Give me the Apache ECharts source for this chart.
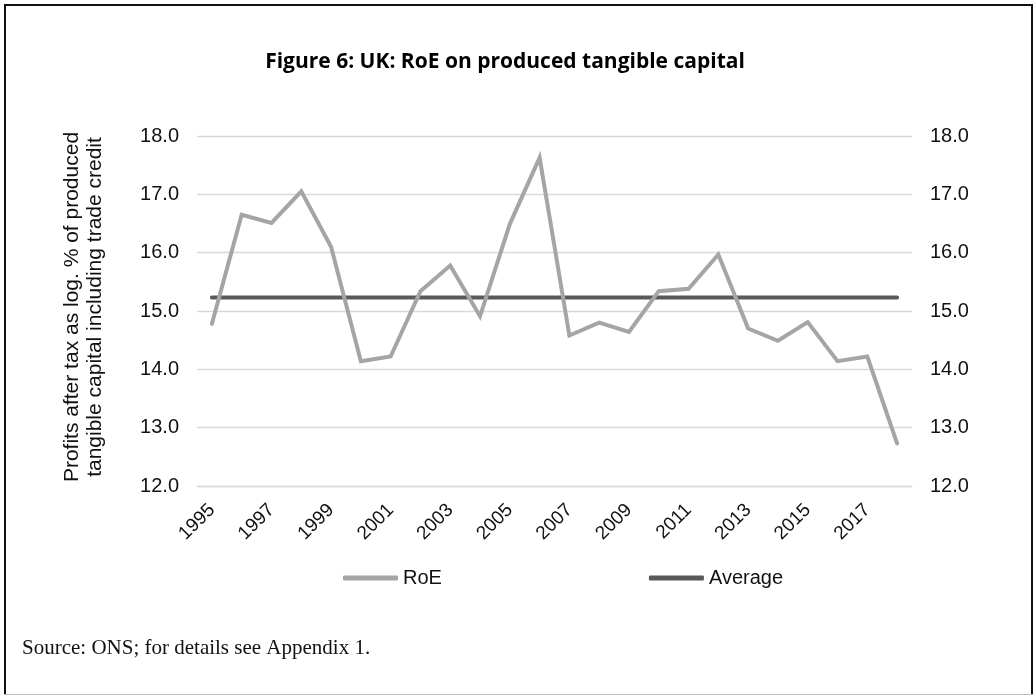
<!DOCTYPE html>
<html>
<head>
<meta charset="utf-8">
<script src="https://cdn.jsdelivr.net/npm/echarts@6/dist/echarts.min.js"></script>
<style>
  html, body { margin: 0; padding: 0; background: #fff; }
  #chart { width: 1034px; height: 696px; }
</style>
</head>
<body>
<div id="chart"></div>
<script>
// Years on the category axis
const years = ['1995','1996','1997','1998','1999','2000','2001','2002','2003','2004','2005','2006',
               '2007','2008','2009','2010','2011','2012','2013','2014','2015','2016','2017','2018'];

// Return on equity, % (profits after tax over produced tangible capital incl. trade credit)
const roe = [14.78, 16.65, 16.51, 17.05, 16.10, 14.14, 14.22, 15.34, 15.78, 14.91, 16.49, 17.63,
             14.58, 14.80, 14.64, 15.34, 15.38, 15.97, 14.70, 14.49, 14.81, 14.14, 14.22, 12.73];

// Period average
const average = [15.23, 15.23, 15.23, 15.23, 15.23, 15.23, 15.23, 15.23, 15.23, 15.23, 15.23, 15.23,
                 15.23, 15.23, 15.23, 15.23, 15.23, 15.23, 15.23, 15.23, 15.23, 15.23, 15.23, 15.23];

// Value-axis range and step
const yMin = 12;
const yMax = 18;
const yStep = 1;

const chart = echarts.init(document.getElementById('chart'), null, { renderer: 'canvas' });

const sans = 'Liberation Sans, Arial, sans-serif';

const valueAxis = (pos) => ({
  type: 'value',
  position: pos,
  min: yMin,
  max: yMax,
  interval: yStep,
  axisLine: { show: false },
  axisTick: { show: false },
  splitLine: { show: pos === 'left', lineStyle: { color: '#d9d9d9', width: 1.3 } },
  axisLabel: {
    color: '#111',
    fontFamily: sans,
    fontSize: 20,
    margin: 18,
    formatter: v => v.toFixed(1)
  }
});

chart.setOption({
  animation: false,
  backgroundColor: '#fff',
  grid: { left: 197, right: 122, top: 136, bottom: 210 },
  xAxis: {
    type: 'category',
    data: years,
    boundaryGap: true,
    axisLine: { show: true, lineStyle: { color: '#d9d9d9', width: 1.3 } },
    axisTick: { show: false },
    axisLabel: {
      interval: 1,
      rotate: 45,
      color: '#111',
      fontFamily: sans,
      fontSize: 19,
      margin: 21
    }
  },
  yAxis: [valueAxis('left'), valueAxis('right')],
  legend: {
    left: 343,
    top: 568,
    padding: 0,
    itemGap: 207,
    itemWidth: 55,
    itemHeight: 5,
    icon: 'roundRect',
    textStyle: { color: '#111', fontFamily: sans, fontSize: 20 },
    data: ['RoE', 'Average']
  },
  series: [
    {
      name: 'RoE',
      type: 'line',
      data: roe,
      yAxisIndex: 0,
      symbol: 'none',
      lineStyle: { color: '#a5a5a5', width: 4, cap: 'round', join: 'miter' },
      itemStyle: { color: '#a5a5a5' },
      z: 3
    },
    {
      name: 'Average',
      type: 'line',
      data: average,
      yAxisIndex: 0,
      symbol: 'none',
      lineStyle: { color: '#595959', width: 4, cap: 'round' },
      itemStyle: { color: '#595959' },
      z: 2
    }
  ],
  graphic: [
    // frame
    { type: 'line', shape: { x1: 5, y1: 4, x2: 5, y2: 695 }, style: { stroke: '#111', lineWidth: 2 } },
    { type: 'line', shape: { x1: 4, y1: 5, x2: 1033, y2: 5 }, style: { stroke: '#111', lineWidth: 2 } },
    { type: 'line', shape: { x1: 1032, y1: 4, x2: 1032, y2: 695 }, style: { stroke: '#111', lineWidth: 2 } },
    { type: 'line', shape: { x1: 4, y1: 694.5, x2: 1033, y2: 694.5 }, style: { stroke: '#bbb', lineWidth: 1 } },
    {
      type: 'text',
      x: 505,
      y: 62,
      style: {
        text: 'Figure 6: UK: RoE on produced tangible capital',
        fill: '#000',
        font: 'bold 21px "Open Sans", sans-serif',
        textAlign: 'center',
        textVerticalAlign: 'middle'
      }
    },
    {
      type: 'text',
      x: 84,
      y: 307,
      rotation: Math.PI / 2,
      style: {
        text: 'Profits after tax as log. % of produced\ntangible capital including trade credit',
        fill: '#111',
        font: '21px "Liberation Sans", Arial, sans-serif',
        lineHeight: 23,
        textAlign: 'center',
        textVerticalAlign: 'middle'
      }
    },
    {
      type: 'text',
      x: 22,
      y: 648,
      style: {
        text: 'Source: ONS; for details see Appendix 1.',
        fill: '#111',
        font: '21px "Liberation Serif", "Times New Roman", serif',
        textAlign: 'left',
        textVerticalAlign: 'middle'
      }
    }
  ]
});
</script>
</body>
</html>
